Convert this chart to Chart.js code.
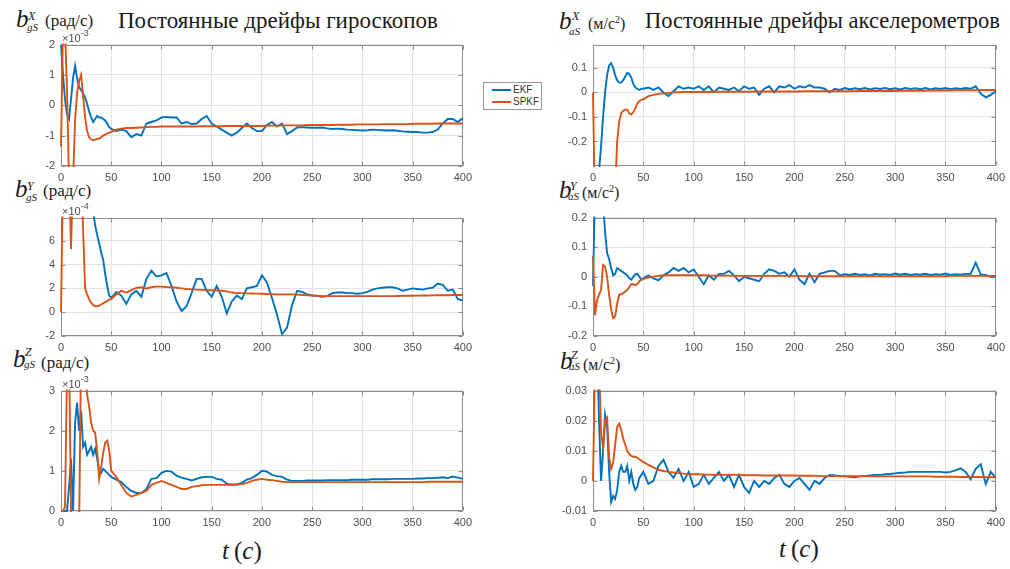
<!DOCTYPE html>
<html>
<head>
<meta charset="utf-8">
<script src="https://cdn.jsdelivr.net/npm/chart.js@4.4.0/dist/chart.umd.min.js"></script>
<style>
  body { margin: 0; width: 1010px; height: 569px; background: #fff; position: relative; overflow: hidden; }
  .panel { position: absolute; }
  .txt { position: absolute; font-family: 'Liberation Serif', 'DejaVu Serif', serif; color: #1a1a1a; white-space: nowrap; line-height: 1; }
  .it { font-style: italic; }
  .exp { position: absolute; font-family: 'Liberation Sans', Arial, sans-serif; font-size: 11px; color: #4d4d4d; line-height: 1; white-space: nowrap; }
  .exp sup { font-size: 9px; position: relative; top: -1px; }
  #legend { position: absolute; left: 483px; top: 82px; width: 57px; height: 26px; border: 1px solid #9a9a9a; background: #fff;
            font-family: 'Liberation Sans', Arial, sans-serif; font-size: 10px; color: #333; }
  #legend .row { position: absolute; left: 8px; height: 12px; line-height: 12px; }
  #legend .sw { display: inline-block; width: 19px; height: 2px; vertical-align: middle; margin-right: 2px; }
</style>
</head>
<body>

<div class="txt" style="left:118px;top:9px;font-size:23px">Постоянные дрейфы гироскопов</div>
<div class="txt" style="left:645px;top:10px;font-size:22.5px">Постоянные дрейфы акселерометров</div>

<!-- axis labels, left column -->
<div class="txt it" style="left:16px;top:6px;font-size:25px">b</div>
<div class="txt it" style="left:28px;top:10px;font-size:12px">X</div>
<div class="txt it" style="left:27px;top:22px;font-size:11px">gS</div>
<div class="txt" style="left:45px;top:12px;font-size:17px">(рад/с)</div>

<div class="txt it" style="left:15px;top:176px;font-size:25px">b</div>
<div class="txt it" style="left:27px;top:180px;font-size:12px">Y</div>
<div class="txt it" style="left:26px;top:192px;font-size:11px">gS</div>
<div class="txt" style="left:43px;top:182px;font-size:17px">(рад/с)</div>

<div class="txt it" style="left:13px;top:346px;font-size:25px">b</div>
<div class="txt it" style="left:25px;top:346px;font-size:12px">Z</div>
<div class="txt it" style="left:24px;top:359px;font-size:11px">gS</div>
<div class="txt" style="left:41px;top:354px;font-size:17px">(рад/с)</div>

<!-- axis labels, right column -->
<div class="txt it" style="left:559px;top:8px;font-size:25px">b</div>
<div class="txt it" style="left:572px;top:10px;font-size:12px">X</div>
<div class="txt it" style="left:569px;top:26px;font-size:11px">aS</div>
<div class="txt" style="left:588px;top:15px;font-size:16px">(м/с<sup style="font-size:10px">2</sup>)</div>

<div class="txt it" style="left:559px;top:177px;font-size:25px">b</div>
<div class="txt it" style="left:570px;top:180px;font-size:12px">Y</div>
<div class="txt it" style="left:568px;top:191px;font-size:11px">aS</div>
<div class="txt" style="left:582px;top:184px;font-size:16px">(м/с<sup style="font-size:10px">2</sup>)</div>

<div class="txt it" style="left:560px;top:348px;font-size:25px">b</div>
<div class="txt it" style="left:571px;top:349px;font-size:12px">Z</div>
<div class="txt it" style="left:569px;top:361px;font-size:11px">aS</div>
<div class="txt" style="left:583px;top:356px;font-size:16px">(м/с<sup style="font-size:10px">2</sup>)</div>

<!-- time labels -->
<div class="txt" style="left:222px;top:538px;font-size:25px"><i>t</i>&thinsp;(<i>c</i>)</div>
<div class="txt" style="left:779px;top:536px;font-size:25px"><i>t</i>&thinsp;(<i>c</i>)</div>

<div id="legend">
  <div class="row" style="top:1px"><span class="sw" style="background:#0072BD"></span>EKF</div>
  <div class="row" style="top:13px"><span class="sw" style="background:#D95319"></span>SPKF</div>
</div>

<script>
// time axis, seconds
const T = [0, 2, 4, 6, 8, 10, 12, 14, 16, 18, 20, 22, 24, 26, 28, 30, 32, 34, 36, 38, 40, 42, 44, 46, 48, 50,
  55, 60, 65, 70, 75, 80, 85, 90, 95, 100, 105, 110, 115, 120,
  125, 130, 135, 140, 145, 150, 155, 160, 165, 170, 175, 180, 185, 190,
  195, 200, 205, 210, 215, 220, 225, 230, 235, 240, 245, 250, 255, 260,
  265, 270, 275, 280, 285, 290, 295, 300, 305, 310, 315, 320, 325, 330,
  335, 340, 345, 350, 355, 360, 365, 370, 375, 380, 385, 390, 395, 400];

// gyro X bias, x1e-3 rad/s
const gyroXEkf = [2.0, 1.0, 0.2, -0.3, -0.45, 0.2, 0.9, 1.3, 0.9, 0.6, 0.5, 0.4, 0.25, 0.05, -0.2, -0.4, -0.55, -0.45, -0.35, -0.4, -0.4, -0.45, -0.5, -0.6, -0.72, -0.78,
  -0.85, -0.8, -0.85, -1.05, -0.95, -1.0, -0.6, -0.55, -0.5, -0.4, -0.38, -0.4, -0.4, -0.6,
  -0.55, -0.62, -0.6, -0.45, -0.35, -0.6, -0.7, -0.8, -0.9, -1.0, -0.9, -0.75, -0.6, -0.75,
  -0.85, -0.85, -0.65, -0.55, -0.7, -0.6, -0.95, -0.85, -0.73, -0.72, -0.73, -0.74, -0.74, -0.73,
  -0.76, -0.78, -0.77, -0.78, -0.8, -0.81, -0.82, -0.83, -0.82, -0.8, -0.81, -0.82, -0.83, -0.82,
  -0.84, -0.86, -0.87, -0.88, -0.88, -0.9, -0.9, -0.88, -0.8, -0.6, -0.45, -0.45, -0.55, -0.42];
const gyroXSpkf = [-1.35, 2.5, 2.5, 0.5, -2.5, -2.5, -2.5, -0.5, 0.4, 0.8, 1.0, 0.3, -0.4, -0.85, -1.05, -1.12, -1.15, -1.13, -1.1, -1.1, -1.05, -1.0, -0.97, -0.93, -0.9, -0.88,
  -0.8, -0.77, -0.75, -0.75, -0.74, -0.73, -0.72, -0.71, -0.71, -0.7, -0.7, -0.7, -0.7, -0.7,
  -0.7, -0.7, -0.7, -0.69, -0.69, -0.69, -0.69, -0.69, -0.68, -0.68, -0.68, -0.68, -0.68, -0.68,
  -0.68, -0.68, -0.67, -0.67, -0.67, -0.66, -0.66, -0.66, -0.66, -0.66, -0.65, -0.65, -0.65, -0.65,
  -0.65, -0.65, -0.64, -0.64, -0.64, -0.64, -0.63, -0.63, -0.63, -0.63, -0.63, -0.62, -0.62, -0.62,
  -0.62, -0.62, -0.62, -0.61, -0.61, -0.61, -0.61, -0.61, -0.6, -0.6, -0.6, -0.6, -0.6, -0.6];

// gyro Y bias, x1e-4 rad/s
const gyroYEkf = [12, 12, 12, 12, 12, 12, 12, 12, 12, 12, 12, 12, 12, 12, 12, 12, 8.5, 7.3, 6.5, 5.8, 5.0, 4.4, 3.2, 2.2, 1.4, 1.2,
  1.7, 1.4, 0.7, 1.5, 1.8, 1.3, 2.8, 3.5, 3.0, 3.1, 3.3, 2.2, 0.9, 0.1,
  0.5, 1.6, 2.8, 2.8, 1.8, 1.3, 2.2, 1.3, -0.1, 0.9, 1.4, 1.1, 2.0, 2.1,
  2.2, 3.1, 2.5, 1.2, -0.2, -1.85, -1.3, 0.6, 1.8, 1.7, 1.5, 1.4, 1.35, 1.3,
  1.35, 1.6, 1.65, 1.65, 1.6, 1.6, 1.55, 1.6, 1.7, 1.9, 2.0, 2.05, 2.1, 2.1,
  2.0, 1.8, 1.9, 2.0, 1.95, 1.9, 2.0, 2.05, 2.4, 2.3, 1.8, 1.9, 1.1, 1.0];
const gyroYSpkf = [0, 12, 12, 12, 12, 5.3, 12, 12, 12, 12, 12, 7, 2.0, 1.5, 1.1, 0.8, 0.6, 0.5, 0.52, 0.55, 0.65, 0.75, 0.85, 0.95, 1.05, 1.1,
  1.5, 1.8, 1.65, 1.85, 2.05, 2.1, 2.0, 2.1, 2.15, 2.15, 2.12, 2.1, 2.05, 2.0,
  1.95, 1.92, 1.9, 1.88, 1.85, 1.85, 1.82, 1.8, 1.75, 1.65, 1.6, 1.6, 1.58, 1.57,
  1.56, 1.55, 1.53, 1.52, 1.5, 1.5, 1.5, 1.5, 1.48, 1.45, 1.42, 1.4, 1.38, 1.35,
  1.35, 1.35, 1.35, 1.35, 1.35, 1.35, 1.35, 1.35, 1.35, 1.35, 1.35, 1.35, 1.35, 1.35,
  1.36, 1.37, 1.38, 1.38, 1.39, 1.4, 1.4, 1.41, 1.42, 1.42, 1.43, 1.44, 1.45, 1.45];

// gyro Z bias, x1e-3 rad/s
const gyroZEkf = [0, 0, 0, 0, 0.6, 1.3, 0, 2.2, 2.7, 2.0, 2.5, 1.6, 1.7, 1.4, 1.5, 1.6, 1.4, 1.55, 1.3, 1.0, 0.95, 1.05, 1.0, 0.95, 0.9, 0.85,
  0.78, 0.72, 0.6, 0.5, 0.45, 0.45, 0.55, 0.8, 0.82, 0.95, 1.0, 0.98, 0.88, 0.83,
  0.8, 0.76, 0.8, 0.84, 0.85, 0.85, 0.8, 0.78, 0.68, 0.65, 0.66, 0.7, 0.78, 0.82,
  0.9, 1.0, 0.98, 0.9, 0.87, 0.85, 0.78, 0.75, 0.75, 0.75, 0.76, 0.76, 0.76, 0.76,
  0.77, 0.77, 0.77, 0.77, 0.77, 0.78, 0.78, 0.78, 0.78, 0.79, 0.79, 0.79, 0.79, 0.8,
  0.8, 0.8, 0.8, 0.8, 0.81, 0.81, 0.82, 0.82, 0.83, 0.84, 0.82, 0.86, 0.83, 0.8];
const gyroZSpkf = [0, 0, 0.1, 3.5, 4, 0, -0.5, -0.5, -0.5, -0.5, 4, 4, 3.5, 2.9, 2.6, 2.2, 2.0, 1.95, 1.5, 0.8, 1.1, 1.45, 1.7, 1.75, 1.5, 1.0,
  0.85, 0.65, 0.45, 0.36, 0.4, 0.45, 0.5, 0.65, 0.7, 0.75, 0.7, 0.65, 0.6, 0.55,
  0.55, 0.6, 0.62, 0.64, 0.65, 0.65, 0.65, 0.65, 0.65, 0.66, 0.66, 0.67, 0.7, 0.75,
  0.78, 0.8, 0.78, 0.77, 0.75, 0.73, 0.72, 0.72, 0.72, 0.72, 0.72, 0.72, 0.72, 0.72,
  0.72, 0.72, 0.72, 0.72, 0.72, 0.72, 0.72, 0.72, 0.72, 0.72, 0.72, 0.72, 0.72, 0.72,
  0.72, 0.72, 0.72, 0.72, 0.72, 0.72, 0.73, 0.73, 0.73, 0.73, 0.73, 0.73, 0.73, 0.73];

// accelerometer X bias, m/s^2
const accXEkf = [-0.6, -0.5, -0.4, -0.32, -0.22, -0.1, 0.0, 0.07, 0.11, 0.12, 0.1, 0.07, 0.05, 0.04, 0.04, 0.05, 0.065, 0.08, 0.075, 0.06, 0.035, 0.02, 0.015, 0.01, 0.015, 0.015,
  0.02, 0.01, 0.02, 0.0, -0.015, 0.005, 0.025, 0.015, 0.02, 0.015, 0.025, 0.01, 0.025, 0.0,
  0.02, 0.015, 0.01, 0.02, 0.005, 0.025, 0.015, 0.02, -0.01, 0.015, 0.025, 0.0, 0.025, 0.02,
  0.03, 0.015, 0.025, 0.02, 0.03, 0.02, 0.02, 0.015, 0.0, 0.015, 0.01, 0.018, 0.012, 0.017,
  0.013, 0.018, 0.012, 0.017, 0.014, 0.018, 0.013, 0.017, 0.012, 0.018, 0.014, 0.017, 0.013, 0.018,
  0.012, 0.017, 0.014, 0.018, 0.013, 0.017, 0.014, 0.018, 0.015, 0.025, -0.005, -0.02, -0.01, 0.005];
const accXSpkf = [0, -0.5, -0.5, -0.5, -0.5, -0.5, -0.5, -0.5, -0.5, -0.5, -0.5, -0.4, -0.2, -0.12, -0.085, -0.075, -0.07, -0.07, -0.085, -0.09, -0.08, -0.065, -0.045, -0.035, -0.03, -0.028,
  -0.015, -0.01, -0.006, -0.004, -0.002, 0.0, 0.001, 0.002, 0.002, 0.002, 0.002, 0.002, 0.002, 0.003,
  0.003, 0.003, 0.003, 0.003, 0.003, 0.003, 0.003, 0.004, 0.004, 0.004, 0.004, 0.004, 0.004, 0.004,
  0.004, 0.004, 0.004, 0.005, 0.005, 0.005, 0.005, 0.005, 0.005, 0.005, 0.005, 0.005, 0.005, 0.005,
  0.006, 0.006, 0.006, 0.006, 0.006, 0.006, 0.006, 0.006, 0.007, 0.007, 0.007, 0.007, 0.007, 0.007,
  0.008, 0.008, 0.008, 0.008, 0.008, 0.009, 0.009, 0.009, 0.009, 0.009, 0.01, 0.01, 0.01, 0.01];

// accelerometer Y bias, m/s^2
const accYEkf = [-0.03, 0.3, 0.3, 0.3, 0.3, 0.25, 0.15, 0.08, 0.06, 0.03, 0.005, 0.01, 0.03, 0.025, 0.02, 0.015, 0.01, 0.005, -0.005, -0.01, 0.0, 0.008, 0.01, 0.0, -0.01, -0.005,
  0.005, -0.005, -0.012, 0.005, 0.015, 0.03, 0.02, 0.03, 0.015, 0.025, 0.0, -0.025, 0.005, -0.01,
  0.01, 0.01, 0.02, 0.005, -0.015, 0.0, -0.005, -0.01, -0.015, 0.01, 0.025, 0.02, 0.01, 0.015,
  0.0, 0.025, -0.01, -0.025, 0.01, -0.018, 0.01, 0.015, 0.02, 0.02, 0.005, 0.009, 0.006, 0.01,
  0.006, 0.009, 0.005, 0.01, 0.007, 0.009, 0.006, 0.011, 0.007, 0.01, 0.006, 0.009, 0.007, 0.01,
  0.006, 0.009, 0.007, 0.011, 0.006, 0.009, 0.007, 0.01, 0.01, 0.048, 0.008, 0.006, 0.0, 0.002];
const accYSpkf = [0.07, -0.13, -0.08, -0.06, -0.045, 0.04, 0.035, 0.0, -0.06, -0.11, -0.14, -0.135, -0.09, -0.06, -0.06, -0.055, -0.05, -0.045, -0.035, -0.025, -0.025, -0.028, -0.025, -0.015, -0.01, -0.007,
  -0.003, 0.0, 0.003, 0.005, 0.005, 0.005, 0.005, 0.005, 0.005, 0.005, 0.005, 0.005, 0.004, 0.004,
  0.004, 0.004, 0.004, 0.003, 0.003, 0.003, 0.003, 0.003, 0.003, 0.003, 0.003, 0.003, 0.003, 0.003,
  0.003, 0.003, 0.003, 0.002, 0.002, 0.002, 0.002, 0.002, 0.002, 0.002, 0.002, 0.002, 0.002, 0.002,
  0.002, 0.002, 0.002, 0.002, 0.002, 0.002, 0.002, 0.002, 0.002, 0.002, 0.002, 0.002, 0.002, 0.002,
  0.002, 0.002, 0.002, 0.002, 0.003, 0.003, 0.003, 0.003, 0.003, 0.003, 0.003, 0.003, 0.003, 0.003];

// accelerometer Z bias, m/s^2
const accZEkf = [0.05, 0.05, 0.045, 0.02, 0.0, 0.01, 0.022, 0.018, 0.003, -0.007, -0.005, -0.006, -0.003, 0.003, 0.005, 0.003, 0.003, 0.005, 0.0, 0.003, -0.001, -0.003, -0.002, 0.001, 0.002, 0.003,
  -0.001, 0.0, 0.005, 0.007, 0.003, 0.001, 0.004, 0.0, 0.003, -0.002, -0.001, 0.002, -0.001, 0.001,
  0.003, 0.0, 0.002, -0.002, 0.002, -0.002, -0.004, 0.0, -0.002, 0.0, -0.001, 0.001, 0.002, -0.001,
  -0.002, 0.0, 0.001, -0.001, -0.003, 0.0, -0.001, 0.001, 0.002, 0.0018, 0.0015, 0.0015, 0.0014, 0.0012,
  0.0015, 0.0016, 0.0018, 0.002, 0.002, 0.0022, 0.0023, 0.0025, 0.0027, 0.0028, 0.003, 0.003, 0.003, 0.003,
  0.003, 0.003, 0.003, 0.0028, 0.003, 0.0035, 0.0042, 0.003, 0.0005, 0.004, 0.0055, -0.001, 0.003, 0.001];
const accZSpkf = [0.0, 0.04, 0.04, 0.04, 0.016, 0.011, 0.02, 0.021, 0.008, 0.004, 0.006, 0.012, 0.018, 0.019, 0.017, 0.014, 0.012, 0.01, 0.009, 0.0083, 0.008, 0.008, 0.0077, 0.0072, 0.0068, 0.0063,
  0.0053, 0.0045, 0.0037, 0.0033, 0.003, 0.0028, 0.0026, 0.0024, 0.0023, 0.0022, 0.0022, 0.0021, 0.0021, 0.002,
  0.002, 0.002, 0.002, 0.002, 0.002, 0.0019, 0.0019, 0.0019, 0.0019, 0.0018, 0.0018, 0.0018, 0.0018, 0.0018,
  0.0018, 0.0018, 0.0017, 0.0017, 0.0017, 0.0017, 0.0016, 0.0016, 0.0016, 0.0016, 0.0016, 0.0016, 0.0016, 0.0016,
  0.0016, 0.0016, 0.0015, 0.0015, 0.0015, 0.0015, 0.0015, 0.0015, 0.0015, 0.0015, 0.0015, 0.0015, 0.0015, 0.0015,
  0.0015, 0.0014, 0.0014, 0.0014, 0.0014, 0.0014, 0.0013, 0.0013, 0.0013, 0.0013, 0.0013, 0.0012, 0.0012, 0.0012];

const BLUE = '#0072BD';
const ORANGE = '#D95319';
const PAD_L = 45, PAD_T = 10, PAD_R = 11, PAD_B = 22;

// plot boxes [left, top, right, bottom] and y-axis setup
const panels = [
  { box: [61, 42, 466, 166],  ekf: gyroXEkf, spkf: gyroXSpkf, min: -2, max: 2, step: 1, exp: '-3' },
  { box: [61, 215, 466, 336], ekf: gyroYEkf, spkf: gyroYSpkf, min: -2, max: 7.95, step: 2, exp: '-4' },
  { box: [61, 388, 466, 511], ekf: gyroZEkf, spkf: gyroZSpkf, min: 0, max: 3, step: 1, exp: '-3' },
  { box: [593, 42, 999, 166],  ekf: accXEkf, spkf: accXSpkf, min: -0.3, max: 0.195, step: 0.1 },
  { box: [593, 215, 999, 336], ekf: accYEkf, spkf: accYSpkf, min: -0.2, max: 0.2, step: 0.1 },
  { box: [593, 388, 999, 511], ekf: accZEkf, spkf: accZSpkf, min: -0.01, max: 0.03, step: 0.01 }
];

// MATLAB-like box round the axes, with short inward ticks
const framePlugin = {
  id: 'frame',
  beforeDatasetsDraw(chart) {
    const a = chart.chartArea;
    const ctx = chart.ctx;
    const L = Math.round(a.left) + 0.5, R = Math.round(a.right) - 0.5;
    const Tp = Math.round(a.top) + 0.5, B = Math.round(a.bottom) - 0.5;
    ctx.save();
    ctx.strokeStyle = '#8c8c8c';
    ctx.lineWidth = 1;
    ctx.strokeRect(L, Tp, R - L, B - Tp);
    ctx.beginPath();
    chart.scales.x.ticks.forEach((tk, i) => {
      const px = Math.round(chart.scales.x.getPixelForTick(i)) + 0.5;
      ctx.moveTo(px, Tp); ctx.lineTo(px, Tp + 4);
      ctx.moveTo(px, B); ctx.lineTo(px, B - 4);
    });
    chart.scales.y.ticks.forEach((tk, i) => {
      const py = Math.round(chart.scales.y.getPixelForTick(i)) + 0.5;
      ctx.moveTo(L, py); ctx.lineTo(L + 4, py);
      ctx.moveTo(R, py); ctx.lineTo(R - 4, py);
    });
    ctx.stroke();
    ctx.restore();
  }
};

const tickFont = { family: "'Liberation Sans', Arial, sans-serif", size: 11 };

function makePanel(p) {
  const [l, t, r, b] = p.box;
  const div = document.createElement('div');
  div.className = 'panel';
  div.style.left = (l - PAD_L) + 'px';
  div.style.top = (t - PAD_T) + 'px';
  div.style.width = (r - l + PAD_L + PAD_R) + 'px';
  div.style.height = (b - t + PAD_T + PAD_B) + 'px';
  const canvas = document.createElement('canvas');
  div.appendChild(canvas);
  document.body.appendChild(div);

  if (p.exp) {
    const e = document.createElement('div');
    e.className = 'exp';
    e.style.left = (l + 1) + 'px';
    e.style.top = (t - 12) + 'px';
    e.innerHTML = '×10<sup>' + p.exp + '</sup>';
    document.body.appendChild(e);
  }

  new Chart(canvas, {
    type: 'line',
    data: {
      datasets: [
        {
          label: 'EKF',
          data: T.map((x, i) => ({ x: x, y: p.ekf[i] })),
          borderColor: BLUE,
          borderWidth: 1.9,
          order: 1,
          clip: 1
        },
        {
          label: 'SPKF',
          data: T.map((x, i) => ({ x: x, y: p.spkf[i] })),
          borderColor: ORANGE,
          borderWidth: 1.9,
          order: 0,
          clip: 1
        }
      ]
    },
    options: {
      responsive: true,
      maintainAspectRatio: false,
      animation: false,
      layout: { padding: { top: PAD_T, right: PAD_R, left: 0, bottom: 0 } },
      elements: { point: { radius: 0 }, line: { tension: 0 } },
      plugins: { legend: { display: false }, tooltip: { enabled: false } },
      scales: {
        x: {
          type: 'linear',
          min: 0,
          max: 400,
          ticks: { stepSize: 50, color: '#4d4d4d', font: tickFont, padding: 5, maxRotation: 0 },
          grid: { color: '#e3e3e3', drawTicks: false },
          border: { display: false },
          afterFit(s) { s.height = PAD_B; }
        },
        y: {
          min: p.min,
          max: p.max,
          ticks: {
            stepSize: p.step,
            includeBounds: false,
            color: '#4d4d4d',
            font: tickFont,
            padding: 6,
            callback: v => String(+v.toFixed(4))
          },
          grid: { color: '#e3e3e3', drawTicks: false },
          border: { display: false },
          afterFit(s) { s.width = PAD_L; }
        }
      }
    },
    plugins: [framePlugin]
  });
}

panels.forEach(makePanel);
</script>
</body>
</html>
